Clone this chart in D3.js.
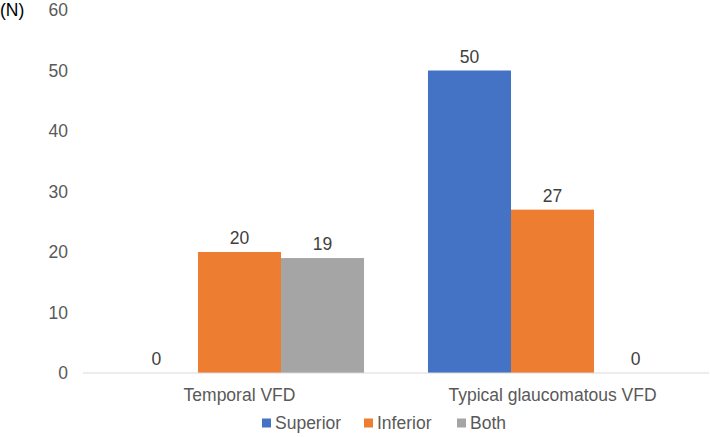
<!DOCTYPE html>
<html>
<head>
<meta charset="utf-8">
<script src="https://cdn.jsdelivr.net/npm/d3@7"></script>
<style>
  body { margin: 0; background: #fff; }
  svg { display: block; font-family: "Liberation Sans", Arial, sans-serif; }
</style>
</head>
<body>
<div id="chart"></div>
<script>
// data
var categories = ["Temporal VFD", "Typical glaucomatous VFD"];
var seriesNames = ["Superior", "Inferior", "Both"];
var superior = [0, 50];
var inferior = [20, 27];
var both = [19, 0];
var yTicks = [0, 10, 20, 30, 40, 50, 60];

var colors = ["#4472C4", "#ED7D31", "#A5A5A5"];
var series = [superior, inferior, both];

var width = 710, height = 437;
var margin = {top: 10, right: 1, bottom: 64, left: 83};
var font_size = 17.5;

var svg = d3.select("#chart")
  .append("svg")
    .attr("width", width)
    .attr("height", height);

var x0 = d3.scaleBand()
  .domain(categories)
  .range([margin.left, width - margin.right]);

var x1 = d3.scaleBand()
  .domain(seriesNames)
  .range([0, x0.bandwidth()])
  .paddingInner(0)
  .paddingOuter(0.385);

var y = d3.scaleLinear()
  .domain([0, 60])
  .range([height - margin.bottom, margin.top]);

// y axis labels
svg.append("g")
  .selectAll("text")
  .data(yTicks)
  .join("text")
    .attr("x", 68)
    .attr("y", d => y(d))
    .attr("dy", "0.35em")
    .attr("text-anchor", "end")
    .attr("fill", "#595959")
    .attr("font-size", font_size)
    .text(d => d);

svg.append("text")
  .attr("x", 0)
  .attr("y", y(60))
  .attr("dy", "0.35em")
  .attr("fill", "#000")
  .attr("font-size", font_size)
  .text("(N)");

// bars
var rows = [];
categories.forEach(function(c, i) {
  seriesNames.forEach(function(s, j) {
    rows.push({cat: c, name: s, value: series[j][i], color: colors[j]});
  });
});

svg.append("g")
  .selectAll("rect")
  .data(rows)
  .join("rect")
    .attr("x", d => x0(d.cat) + x1(d.name))
    .attr("y", d => y(d.value))
    .attr("width", x1.bandwidth())
    .attr("height", d => y(0) - y(d.value))
    .attr("fill", d => d.color);

// baseline
svg.append("line")
  .attr("x1", margin.left)
  .attr("x2", width - margin.right)
  .attr("y1", y(0))
  .attr("y2", y(0))
  .attr("stroke", "#D9D9D9")
  .attr("stroke-width", 1);

// value labels
svg.append("g")
  .selectAll("text")
  .data(rows)
  .join("text")
    .attr("x", d => x0(d.cat) + x1(d.name) + x1.bandwidth() / 2)
    .attr("y", d => y(d.value) - 8)
    .attr("text-anchor", "middle")
    .attr("fill", "#404040")
    .attr("font-size", font_size)
    .text(d => d.value);

// category labels
svg.append("g")
  .selectAll("text")
  .data(categories)
  .join("text")
    .attr("x", d => x0(d) + x0.bandwidth() / 2)
    .attr("y", y(0) + 22)
    .attr("dy", "0.35em")
    .attr("text-anchor", "middle")
    .attr("fill", "#595959")
    .attr("font-size", font_size)
    .text(d => d);

// legend
var legendX = [262, 364, 457];
var legend = svg.append("g")
  .selectAll("g")
  .data(seriesNames)
  .join("g")
    .attr("transform", (d, i) => "translate(" + legendX[i] + "," + 423 + ")");

legend.append("rect")
  .attr("x", 0)
  .attr("y", -4.5)
  .attr("width", 9)
  .attr("height", 9)
  .attr("fill", (d, i) => colors[i]);

legend.append("text")
  .attr("x", 13)
  .attr("y", 0)
  .attr("dy", "0.35em")
  .attr("fill", "#595959")
  .attr("font-size", font_size)
  .text(d => d);
</script>
</body>
</html>
